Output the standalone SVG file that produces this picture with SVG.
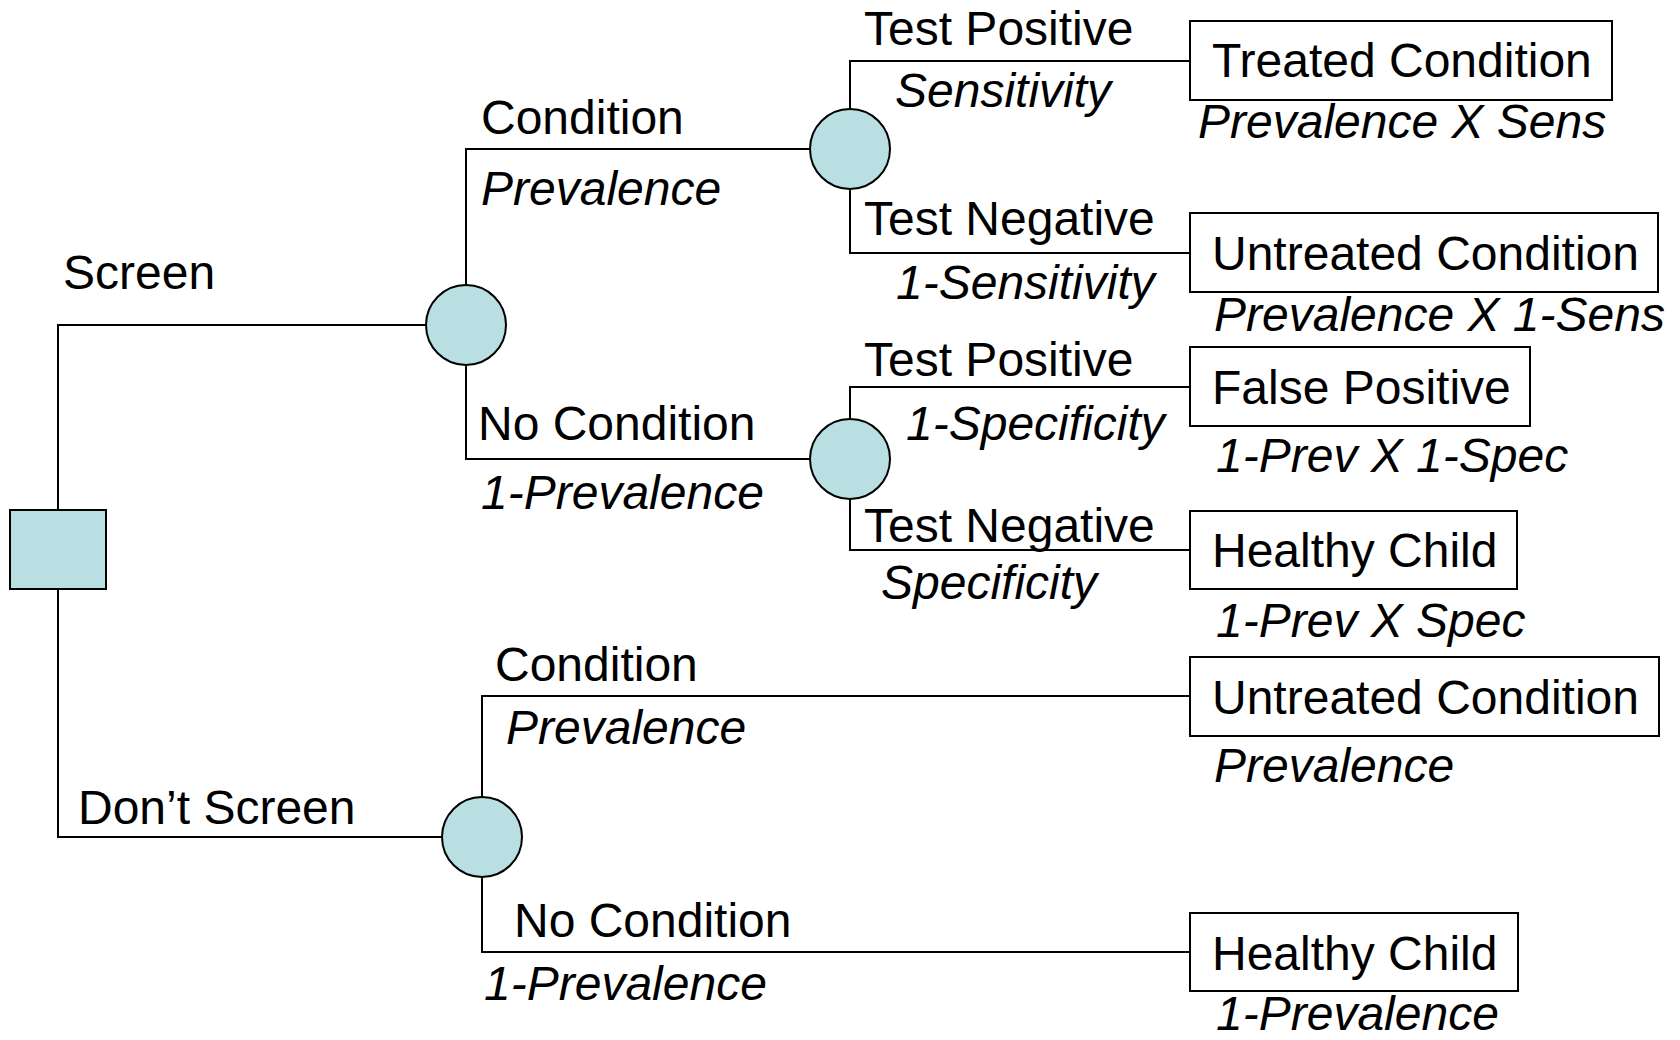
<svg xmlns="http://www.w3.org/2000/svg" width="1680" height="1040" viewBox="0 0 1680 1040">
<style>
.ln{fill:none;stroke:#000;stroke-width:2}
.ch{fill:#B9DFE2;stroke:#000;stroke-width:2}
.bx{fill:#fff;stroke:#000;stroke-width:2}
text{font-family:"Liberation Sans",Arial,sans-serif;font-size:48px;fill:#000}
.i{font-style:italic}
</style>
<rect width="1680" height="1040" fill="#fff"/>
<g id="connectors">
<polyline class="ln" points="58,510 58,325 426,325"/>
<polyline class="ln" points="58,589 58,837 442,837"/>
<polyline class="ln" points="466,285 466,149 810,149"/>
<polyline class="ln" points="466,365 466,459 810,459"/>
<polyline class="ln" points="850,109 850,61 1190,61"/>
<polyline class="ln" points="850,189 850,253 1190,253"/>
<polyline class="ln" points="850,419 850,387 1190,387"/>
<polyline class="ln" points="850,499 850,550 1190,550"/>
<polyline class="ln" points="482,797 482,696 1190,696"/>
<polyline class="ln" points="482,877 482,952 1190,952"/>
</g>
<g id="decision"><rect class="ch" x="10" y="510" width="96" height="79"/></g>
<g id="chance1"><circle class="ch" cx="466" cy="325" r="40"/></g>
<g id="chance2"><circle class="ch" cx="850" cy="149" r="40"/></g>
<g id="chance3"><circle class="ch" cx="850" cy="459" r="40"/></g>
<g id="chance4"><circle class="ch" cx="482" cy="837" r="40"/></g>
<g id="out1"><rect class="bx" x="1190" y="21" width="422" height="79"/><text x="1212" y="77">Treated Condition</text></g>
<g id="out2"><rect class="bx" x="1190" y="213" width="468" height="79"/><text x="1212" y="270">Untreated Condition</text></g>
<g id="out3"><rect class="bx" x="1190" y="347" width="340" height="79"/><text x="1212" y="404">False Positive</text></g>
<g id="out4"><rect class="bx" x="1190" y="511" width="327" height="78"/><text x="1212" y="567">Healthy Child</text></g>
<g id="out5"><rect class="bx" x="1190" y="657" width="469" height="79"/><text x="1212" y="714">Untreated Condition</text></g>
<g id="out6"><rect class="bx" x="1190" y="913" width="328" height="78"/><text x="1212" y="970">Healthy Child</text></g>
<g id="labels">
<text x="63" y="289">Screen</text>
<text x="78" y="824">Don’t Screen</text>
<text x="481" y="134">Condition</text>
<text class="i" x="481" y="205">Prevalence</text>
<text x="478" y="440">No Condition</text>
<text class="i" x="481" y="509">1-Prevalence</text>
<text x="864" y="45">Test Positive</text>
<text class="i" x="895" y="107">Sensitivity</text>
<text x="864" y="235">Test Negative</text>
<text class="i" x="896" y="299">1-Sensitivity</text>
<text x="864" y="376">Test Positive</text>
<text class="i" x="906" y="440">1-Specificity</text>
<text x="864" y="542">Test Negative</text>
<text class="i" x="881" y="599">Specificity</text>
<text class="i" x="1198" y="138">Prevalence X Sens</text>
<text class="i" x="1214" y="331">Prevalence X 1-Sens</text>
<text class="i" x="1216" y="472">1-Prev X 1-Spec</text>
<text class="i" x="1216" y="637">1-Prev X Spec</text>
<text x="495" y="681">Condition</text>
<text class="i" x="506" y="744">Prevalence</text>
<text class="i" x="1214" y="782">Prevalence</text>
<text x="514" y="937">No Condition</text>
<text class="i" x="484" y="1000">1-Prevalence</text>
<text class="i" x="1216" y="1030">1-Prevalence</text>
</g>
</svg>
